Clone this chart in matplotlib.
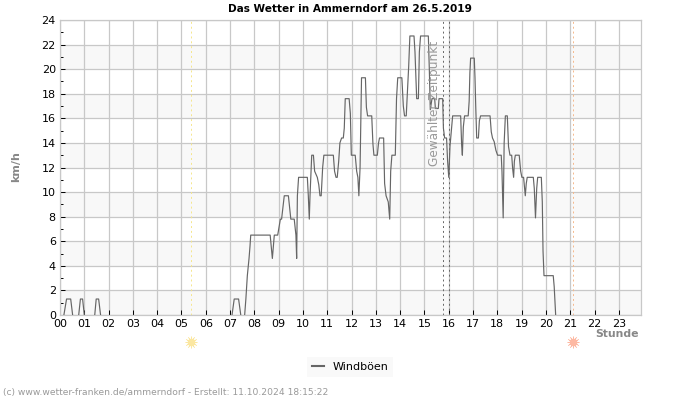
# Das Wetter in Ammerndorf - Windboeen
import matplotlib
matplotlib.use('Agg')
import matplotlib.pyplot as plt

nan = float('nan')
stunden = [0.16, 0.27, 0.44, 0.52, nan, 0.77, 0.84, 0.93, 1.0, nan, 1.43, 1.49, 1.59, 1.67, nan, 7.08, 7.17, 7.35, 7.44, nan,
           7.6, 7.65, 7.71, 7.78, 7.82, 7.85, 8.65, 8.74, 8.82, 8.96, 9.07, 9.12, 9.23, 9.4, 9.5, 9.64,
           9.71, 9.74, 9.77, 9.82, 10.18, 10.22, 10.26, 10.29, 10.32, 10.36, 10.43, 10.48, 10.59, 10.65,
           10.7, 10.75, 10.81, 10.86, 11.25, 11.3, 11.36, 11.41, 11.47, 11.52, 11.59, 11.66, 11.7, 11.74,
           11.9, 11.95, 11.99, 12.15, 12.21, 12.26, 12.3, 12.35, 12.39, 12.41, 12.57, 12.61, 12.66, 12.83,
           12.88, 12.92, 13.06, 13.11, 13.15, 13.32, 13.36, 13.42, 13.51, 13.57, 13.61, 13.66, 13.8, 13.85,
           13.9, 14.07, 14.13, 14.18, 14.25, 14.31, 14.35, 14.4, 14.57, 14.61, 14.68, 14.75, 14.79, 14.84,
           15.16, 15.2, 15.24, 15.31, 15.42, 15.45, 15.57, 15.6, 15.75, 15.78, 15.83, 15.91, 15.95, 16.0,
           16.05, 16.12, 16.16, 16.49, 16.53, 16.56, 16.6, 16.65, 16.8, 16.84, 16.87, 16.9, 17.05, 17.08,
           17.11, 17.15, 17.22, 17.26, 17.31, 17.7, 17.75, 17.8, 17.87, 17.94, 18.01, 18.16, 18.19, 18.22,
           18.24, 18.28, 18.33, 18.41, 18.46, 18.52, 18.59, 18.63, 18.67, 18.7, 18.74, 18.9, 18.96, 19.01,
           19.08, 19.12, 19.15, 19.19, 19.23, 19.48, 19.52, 19.57, 19.62, 19.66, 19.81, 19.85, 19.88, 19.92,
           20.3, 20.34, 20.38, 20.4]
windboeen = [0, 1.3, 1.3, 0, nan, 0, 1.3, 1.3, 0, nan, 0, 1.3, 1.3, 0, nan, 0, 1.3, 1.3, 0, nan,
             0, 1.3, 3.2, 4.6, 5.6, 6.5, 6.5, 4.6, 6.5, 6.5, 7.8, 7.8, 9.7, 9.7, 7.8, 7.8,
             6.5, 4.6, 9.7, 11.2, 11.2, 9.7, 7.8, 9.7, 11.2, 13, 13, 11.7, 11.2, 10.6,
             9.7, 9.7, 12, 13, 13, 11.7, 11.2, 11.2, 12.5, 14, 14.4, 14.4, 15.2, 17.6,
             17.6, 16.4, 13, 13, 11.7, 11.2, 9.7, 12, 16.9, 19.3, 19.3, 16.9, 16.2, 16.2,
             13.9, 13, 13, 14, 14.4, 14.4, 10.7, 9.7, 9.2, 7.8, 11.7, 13, 13, 17.6,
             19.3, 19.3, 17, 16.2, 16.2, 18.6, 20.2, 22.7, 22.7, 21.4, 17.6, 17.6, 21.4, 22.7,
             22.7, 20, 16.7, 17.6, 17.6, 16.8, 16.8, 17.6, 17.6, 15.2, 14.4, 14.4, 12.6, 11.2,
             13.7, 15.3, 16.2, 16.2, 13.85, 13, 15.3, 16.2, 16.2, 17.4, 19.7, 20.9, 20.9, 19.3,
             17, 14.4, 14.4, 15.8, 16.2, 16.2, 14.9, 14.4, 14.1, 13.4, 13, 13, 11.7, 9.2,
             7.9, 14, 16.2, 16.2, 13.7, 13, 13, 11.9, 11.2, 12.5, 13, 13, 11.7, 11.2,
             11.2, 10.3, 9.7, 10.7, 11.2, 11.2, 10.3, 7.9, 10.3, 11.2, 11.2, 9.2, 5.2, 3.2,
             3.2, 2.3, 0.65, 0]

y_major = list(range(0, 25, 2))
y_minor = list(range(1, 24, 2))
x_labels = ['%02d' % h for h in range(24)]
sonnenaufgang = 5.39
sonnenuntergang = 21.11
zeitpunkt = [15.75, 16.0]

fig = plt.figure(figsize=(7, 4), dpi=100)
ax = fig.add_axes([60/700, 1-315/400, 580.7/700, 295/400])

# abwechselnd graue Streifen
for y in y_major[::2][:-1]:
    ax.axhspan(y, y+2, color='#f8f8f8', lw=0, zorder=0)
for y in y_major:
    ax.axhline(y, color='#c8c8c8', lw=0.9, zorder=1)
for h in range(24):
    ax.axvline(h, color='#c8c8c8', lw=0.9, zorder=1)

ax.axvline(sonnenaufgang, color='#f5e68c', lw=0.7, ls=(0, (2, 3)), zorder=2)
ax.axvline(sonnenuntergang, color='#f5b98c', lw=0.7, ls=(0, (2, 3)), zorder=2)
for z in zeitpunkt:
    ax.axvline(z, color='#666666', lw=0.7, ls=(0, (2, 3)), zorder=2)

ax.plot(stunden, windboeen, color='#666666', lw=0.85, label='Windböen', zorder=3)
ax.text(15.4, 12.1, 'Gewählter Zeitpunkt', rotation=90, color='#999999', fontsize=8.75,
        ha='center', va='bottom', zorder=4)

ax.set_xlim(0, 23.9)
ax.set_ylim(0, 24)
ax.set_xticks(range(24))
ax.set_xticklabels(x_labels)
ax.set_yticks(y_major)
ax.set_yticks(y_minor, minor=True)
ax.tick_params(axis='both', which='major', direction='in', length=3.6, width=0.7, labelsize=8, pad=3, color='black')
ax.tick_params(axis='y', which='minor', direction='in', length=2.2, width=0.7, color='black')
for s in ax.spines.values():
    s.set_color('#c8c8c8')
    s.set_linewidth(0.9)

ax.set_title('Das Wetter in Ammerndorf am 26.5.2019', fontsize=7.6, fontweight='bold', pad=6)
fig.text(16/700, 1-167/400, 'km/h', rotation=90, fontsize=8, fontweight='bold', color='#888888', ha='center', va='center')
fig.text(639/700, 1-334/400, 'Stunde', fontsize=7.8, fontweight='bold', color='#888888', ha='right', va='center')

# Sonne auf- und untergang
for h, c in [(sonnenaufgang, '#fbe7a1'), (sonnenuntergang, '#fdb9a3')]:
    px = ax.get_xaxis_transform()
    ax.plot([h], [-0.09], marker='o', ms=5.5, color=c, mew=0, transform=px, clip_on=False)
    ax.plot([h], [-0.09], marker=(12, 2, 0), ms=8.6, color=c, mew=0.4, transform=px, clip_on=False)

leg = fig.legend(loc='center', bbox_to_anchor=(350/700, 1-367/400), fontsize=8, frameon=True, facecolor='#f8f8f8',
                 edgecolor='none', fancybox=False, handlelength=1.1, borderpad=0.45)
leg.get_lines()[0].set_linewidth(1.5)
fig.text(3/700, 1-393/400, '(c) www.wetter-franken.de/ammerndorf - Erstellt: 11.10.2024 18:15:22',
         fontsize=6.6, color='#999999', ha='left', va='center')

fig.savefig('out.png', dpi=100)
